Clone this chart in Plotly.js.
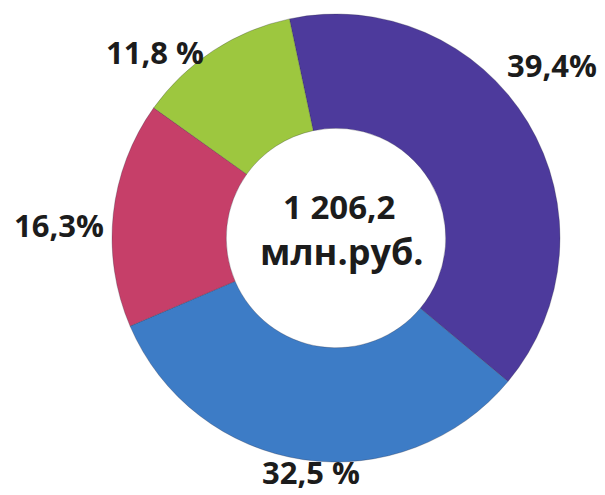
<!DOCTYPE html>
<html>
<head>
<meta charset="utf-8">
<script src="https://cdn.plot.ly/plotly-3.0.1.min.js"></script>
<style>html,body{margin:0;padding:0;background:#fff;}#chart{width:605px;height:495px;}</style>
</head>
<body>
<div id="chart"></div>
<script>
// Data
const categories = ["Доля 1", "Доля 2", "Доля 3", "Доля 4"];
const shares = [39.4, 32.5, 16.3, 11.8];
const shareLabels = ["39,4%", "32,5 %", "16,3%", "11,8 %"];
const totalLabel = "1 206,2";
const unitLabel = "млн.руб.";

const colors = ["#4d3a9c", "#3d7cc6", "#c63f69", "#9dc73f"];
const labelFont = {family: "'Open Sans', sans-serif", size: 31, color: "#1c1c1c", weight: "bold"};

// label anchor positions (paper coords) for each slice label
const labelPos = [[552/605, 1-65/495], [311/605, 1-476/495], [59/605, 1-225/495], [155/605, 1-52/495]];

const annotations = shareLabels.map((t, i) => ({
  text: t, x: labelPos[i][0], y: labelPos[i][1], xref: "paper", yref: "paper",
  xanchor: "center", yanchor: "middle", showarrow: false, font: labelFont
}));
annotations[1].yanchor = "bottom";
annotations[1].y = 0;
annotations.push({text: totalLabel, x: 339/605, y: 1-206/495, xref: "paper", yref: "paper",
  xanchor: "center", yanchor: "middle", showarrow: false, font: Object.assign({}, labelFont, {size: 33})});
annotations.push({text: unitLabel, x: 342/605, y: 1-251/495, xref: "paper", yref: "paper",
  xanchor: "center", yanchor: "middle", showarrow: false, font: Object.assign({}, labelFont, {size: 36})});

const trace = {
  type: "pie",
  labels: categories,
  values: shares,
  hole: 0.49,
  sort: false,
  direction: "clockwise",
  rotation: -12,
  textinfo: "none",
  hoverinfo: "label+percent",
  marker: {colors: colors, line: {color: "rgba(40,40,60,0.35)", width: 0.8}},
  domain: {x: [(336-224)/605, (336+224)/605], y: [1-462/495, 1-14/495]}
};

Plotly.newPlot("chart", [trace], {
  width: 605, height: 495,
  margin: {l: 0, r: 0, t: 0, b: 0},
  showlegend: false,
  paper_bgcolor: "#ffffff",
  annotations: annotations
}, {displayModeBar: false, staticPlot: true});
</script>
</body>
</html>
